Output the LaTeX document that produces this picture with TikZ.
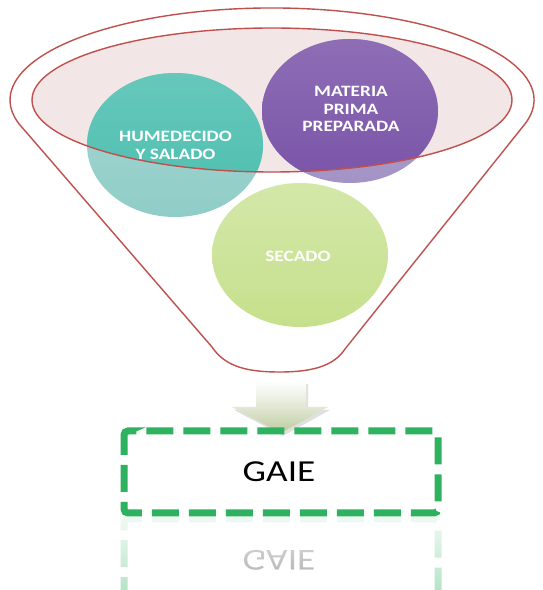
\documentclass[tikz,border=0pt]{standalone}
\usepackage{fontspec}
\setmainfont{Carlito}
\usetikzlibrary{shapes.geometric,fadings}

\definecolor{rim}{HTML}{C0504D}
\definecolor{rimfill}{HTML}{F2E6E6}
\definecolor{tealV}{HTML}{4BBEAF}
\definecolor{tealF}{HTML}{90CDC7}
\definecolor{purpV}{HTML}{7A54A8}
\definecolor{purpF}{HTML}{A393C6}
\definecolor{limeV}{HTML}{C5E08C}
\definecolor{arrowG}{HTML}{BCCB9E}
\definecolor{boxG}{HTML}{2EB260}

\tikzset{
  rimline/.style={draw=rim, line width=1.4pt, line join=round},
  disc/.style={ellipse, minimum width=176pt, minimum height=144pt, inner sep=0pt, draw=none},
  stagetext/.style={text=white, font=\bfseries\fontsize{15.8}{17.3}\selectfont,
    align=center, xscale=1.22, inner sep=0pt},
  gaiebox/.style={draw=boxG, line width=7pt, dash pattern=on 27pt off 10pt,
    rounded corners=4pt},
  gaietext/.style={font=\fontsize{30.5}{34}\selectfont, xscale=1.22, inner sep=0pt}
}

\begin{document}
\begin{tikzpicture}[x=1pt, y=1pt]
\useasboundingbox (0,0) rectangle (543,590);
\fill[white] (0,0) rectangle (543,590);

% mouth of the funnel
\fill[rimfill] (272,490) ellipse[x radius=240, y radius=72];

% stages, washed-out everywhere ...
\node[disc, top color=tealF!80!white, bottom color=tealF] (humF) at (175,445) {};
\node[disc, top color=purpF!80!white, bottom color=purpF] (matF) at (350,479) {};
\node[disc, top color=limeV!75!white, bottom color=limeV] (secF) at (300,335) {};
% ... and at full strength inside the mouth
\begin{scope}
  \clip (272,490) ellipse[x radius=240, y radius=72];
  \node[disc, top color=tealV!85!white, bottom color=tealV] (humV) at (175,445) {};
  \node[disc, top color=purpV!85!white, bottom color=purpV] (matV) at (350,479) {};
\end{scope}

\draw[rimline] (272,490) ellipse[x radius=240, y radius=72];

% funnel body
\draw[rimline] (525.1,466.2) arc[start angle=-15, end angle=195, x radius=262, y radius=92]
  -- (212,243) .. controls (226,222) and (250,218) .. (280,218)
  .. controls (312,218) and (334,224) .. (345,241) -- cycle;

% stage labels
\node[stagetext] (hum) at (175.5,444.5) {HUMEDECIDO\\Y SALADO};
\node[stagetext] (mat) at (351,481) {MATERIA\\PRIMA\\PREPARADA};
\node[stagetext] (sec) at (298,334) {SECADO};

% down arrow
\fill[black, opacity=0.12] (258,206) -- (308,206) -- (308,180) -- (330,180)
  -- (283,154) -- (234,180) -- (258,180) -- cycle;
\shade[top color=white, bottom color=arrowG, middle color=arrowG!45!white]
  (256,209) -- (306,209) -- (306,183) -- (328,183) -- (281,157)
  -- (232,183) -- (256,183) -- cycle;

% reflection of the result box
\begin{scope}
  \clip (100,0) rectangle (460,74);
  \begin{scope}[shift={(0,148)}, yscale=-1, opacity=0.5]
    \draw[gaiebox] (131,159) -- (124,159) -- (124,77) -- (438,77) -- (438,159) -- cycle;
  \end{scope}
  \node[gaietext, yscale=-1, text=black, opacity=0.5] (gaieR) at (279,29.5) {GAIE};
  \fill[white, path fading=south] (100,-40) rectangle (460,90);
\end{scope}

% result box
\draw[gaiebox] (131,159) -- (124,159) -- (124,77) -- (438,77) -- (438,159) -- cycle;
\node[gaietext] (gaie) at (279,118.5) {GAIE};
\end{tikzpicture}
\end{document}
